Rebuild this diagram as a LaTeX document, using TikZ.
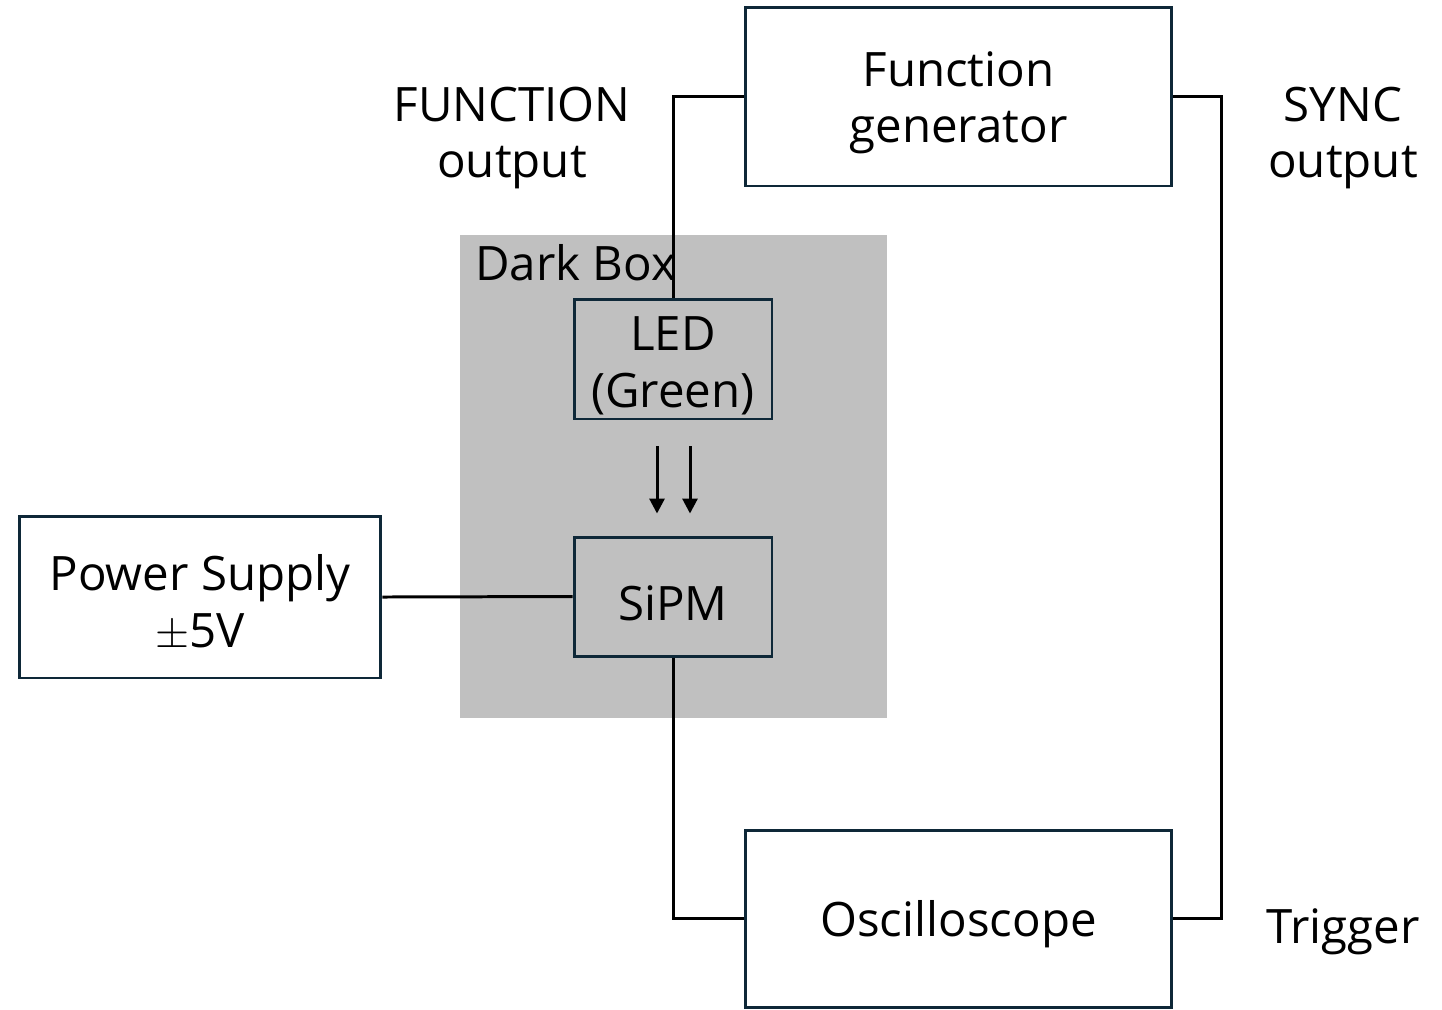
\documentclass[tikz,border=0pt]{standalone}
\usepackage{fontspec}
\setmainfont{Open Sans}
\usepackage{xcolor}
\definecolor{boxnavy}{RGB}{14,40,56}
\definecolor{darkgray}{RGB}{192,192,192}
\usepackage{tikz}
\usetikzlibrary{arrows.meta, positioning}
\newcommand{\lift}{\rule{0pt}{1em}}

\begin{document}
\begin{tikzpicture}[x=0.02cm, y=-0.02cm,
  every node/.style={font=\fontsize{27}{32}\selectfont, align=center},
  unit/.style={draw=boxnavy, line width=1.7pt, fill=white, inner sep=0pt},
  wire/.style={black, line width=1.7pt},
  ray/.style={black, line width=1.7pt, -{Triangle[length=0.3cm, width=0.3cm]}}]
  % canvas
  \useasboundingbox (0,0) rectangle (1442,1009);

  % Dark box
  \node[fill=darkgray, minimum width=8.54cm, minimum height=9.66cm, inner sep=0pt] (darkbox) at (673.5,476.5) {};
  \node[anchor=west, inner sep=0pt] (darklabel) at ([xshift=0.3cm, yshift=-0.56cm]darkbox.north west) {Dark Box};

  % Units
  \node[unit, minimum width=8.54cm, minimum height=3.58cm] (fgen) at (958.5,96.5) {\lift Function\\generator};
  \node[unit, fill=darkgray, minimum width=3.96cm, minimum height=2.4cm] (led) at (673,359) {\lift LED\\(Green)};
  \node[unit, fill=darkgray, minimum width=3.96cm, minimum height=2.38cm] (sipm) at (673,596.5) {\lift SiPM};
  \node[unit, minimum width=7.24cm, minimum height=3.24cm] (psu) at (200,597) {\lift Power Supply\\$\pm$5V};
  \node[unit, minimum width=8.54cm, minimum height=3.54cm] (scope) at (958.5,918.5) {\lift Oscilloscope};

  % Labels
  \node (funclabel) at (512,138) {FUNCTION\\output};
  \node (synclabel) at (1343,138) {SYNC\\output};
  \node (triglabel) at (1343,932) {Trigger};

  % Wiring
  \draw[wire] (led.north) |- (fgen.west);
  \draw[wire] (fgen.east) -- ++(48,0) |- (scope.east);
  \draw[wire] (sipm.south) |- (scope.west);
  \draw[wire] (psu.east) -- (sipm.west);

  % Light
  \draw[ray] ([xshift=-0.32cm, yshift=-0.52cm]led.south) -- ([xshift=-0.32cm, yshift=0.44cm]sipm.north);
  \draw[ray] ([xshift=0.34cm, yshift=-0.52cm]led.south) -- ([xshift=0.34cm, yshift=0.44cm]sipm.north);
\end{tikzpicture}
\end{document}
